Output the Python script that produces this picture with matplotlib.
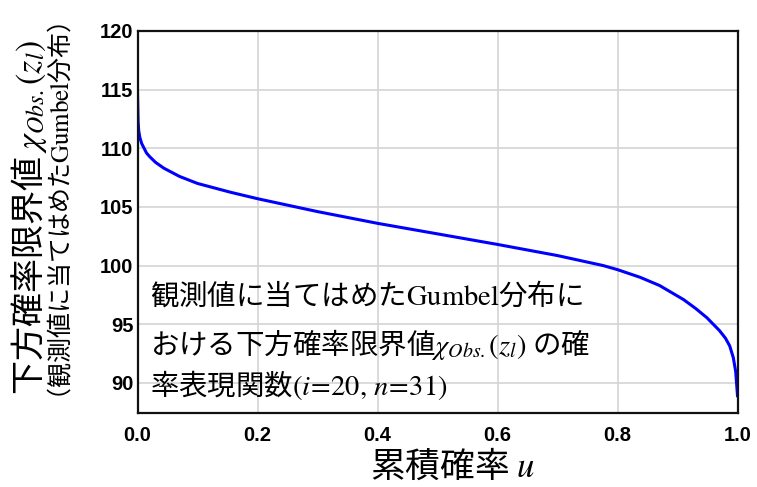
import matplotlib
matplotlib.use("Agg")
import matplotlib.pyplot as plt

plt.rcParams['mathtext.fontset'] = 'stix'
plt.rcParams['font.family'] = ['Noto Sans CJK JP', 'DejaVu Sans']

# cumulative probability u and lower probability limit
u = [0.0, 0.001, 0.002, 0.004, 0.007, 0.01, 0.015, 0.02, 0.03, 0.044,
     0.07, 0.1, 0.155, 0.2, 0.3, 0.4, 0.5, 0.6, 0.7, 0.776, 0.8, 0.8375,
     0.87, 0.91, 0.93, 0.949, 0.97, 0.98, 0.987, 0.993, 0.997, 1.0]
chi = [114.8, 112.3, 111.5, 110.9, 110.4, 110.1, 109.6, 109.3, 108.8, 108.3,
       107.6, 107.0, 106.25, 105.7, 104.6, 103.6, 102.7, 101.8, 100.85, 100.0, 99.65, 99.0,
       98.3, 97.1, 96.35, 95.55, 94.45, 93.8, 93.15, 92.15, 90.95, 88.9]

xticks = [0.0, 0.2, 0.4, 0.6, 0.8, 1.0]
yticks = [90, 95, 100, 105, 110, 115, 120]

W, H = 757, 487
fig = plt.figure(figsize=(W / 100, H / 100), dpi=100)
ax = fig.add_axes([137.5 / W, 1 - 413.3 / H, 600 / W, 382.3 / H])

ax.plot(u, chi, color='#0000ff', lw=2.2)
ax.set_xlim(0, 1)
ax.set_ylim(87.4, 120)
ax.set_xticks(xticks)
ax.set_yticks(yticks)
ax.set_xticklabels([f'{t:.1f}' for t in xticks])
ax.grid(True, color='#d4d4d4', lw=1.2)
ax.set_axisbelow(True)
ax.tick_params(length=0)
ax.tick_params(axis='x', pad=9)
ax.tick_params(axis='y', pad=3)
for lab in ax.get_xticklabels() + ax.get_yticklabels():
    lab.set_family('Liberation Sans')
    lab.set_fontweight('bold')
    lab.set_fontsize(14.5)
for sp in ax.spines.values():
    sp.set_linewidth(1.6)
    sp.set_color('#111111')

# axis labels
fig.text(370 / W, 1 - 477 / H, '累積確率 $u$', ha='left', va='baseline',
         fontsize=25)
fig.text(29 / W, 1 - 218 / H, '下方確率限界値 $\\chi_{Obs.}(z_l)$', rotation=90,
         ha='center', va='center', fontsize=24.5)
fig.text(61 / W, 1 - 218 / H, '（観測値に当てはめた$\\mathrm{Gumbel}$分布）', rotation=90,
         ha='center', va='center', fontsize=18)

# annotation inside the axes
fig.text(150 / W, 1 - 305 / H, '観測値に当てはめた$\\mathrm{Gumbel}$分布に',
         ha='left', va='baseline', fontsize=20.5)
fig.text(150 / W, 1 - 354 / H, 'おける下方確率限界値$\\chi_{Obs.}(z_l)$ の確',
         ha='left', va='baseline', fontsize=20.5)
fig.text(150 / W, 1 - 395 / H, '率表現関数$(i\\!=\\!20,\\,n\\!=\\!31)$',
         ha='left', va='baseline', fontsize=20.5)

fig.savefig('out.png', dpi=100)
